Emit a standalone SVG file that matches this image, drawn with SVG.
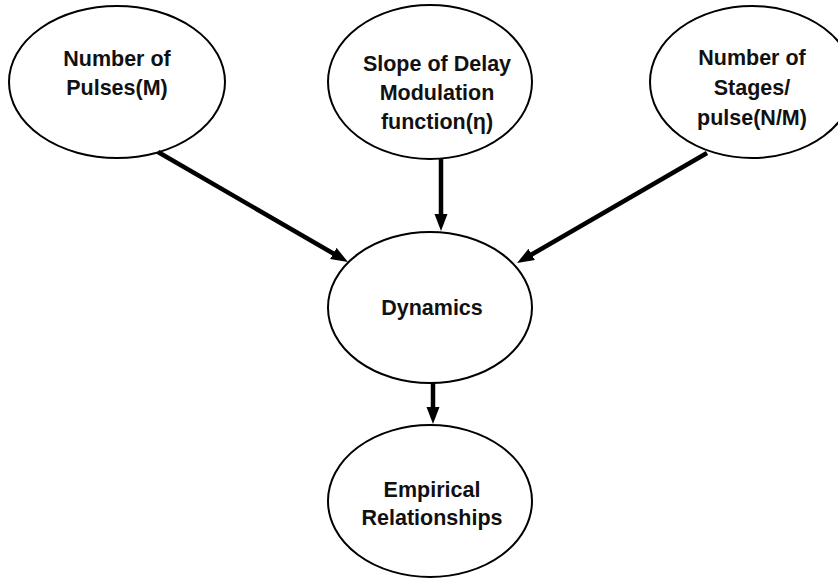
<svg xmlns="http://www.w3.org/2000/svg" width="838" height="579" viewBox="0 0 838 579">
<style>
.node ellipse { fill: #ffffff; stroke: #000000; stroke-width: 2; }
.node text { font-family: "Liberation Sans", Arial, sans-serif; font-weight: bold; font-size: 21.5px; fill: #111111; text-anchor: middle; }
.conn line { stroke: #000000; stroke-width: 4.5; fill: none; marker-end: url(#arrow); }
</style>
<defs>
<marker id="arrow" markerUnits="userSpaceOnUse" markerWidth="18" markerHeight="14" refX="5" refY="6.5" orient="auto">
<path d="M0,0 L17,6.5 L0,13 z" fill="#000000"/>
</marker>
</defs>
<rect width="838" height="579" fill="#ffffff"/>
<g id="n-pulses" class="node">
<ellipse cx="117" cy="82" rx="108" ry="76"/>
<text x="117" y="66">Number of</text>
<text x="117" y="95">Pulses(M)</text>
</g>
<g id="n-slope" class="node">
<ellipse cx="430" cy="82" rx="102" ry="77"/>
<text x="437" y="71">Slope of Delay</text>
<text x="437" y="100">Modulation</text>
<text x="437" y="129">function(η)</text>
</g>
<g id="n-stages" class="node">
<ellipse cx="752" cy="82" rx="102" ry="76"/>
<text x="752" y="65">Number of</text>
<text x="752" y="95">Stages/</text>
<text x="752" y="125">pulse(N/M)</text>
</g>
<g id="n-dynamics" class="node">
<ellipse cx="430" cy="307.5" rx="102" ry="75.5"/>
<text x="432" y="315">Dynamics</text>
</g>
<g id="n-empirical" class="node">
<ellipse cx="430" cy="501" rx="102" ry="76"/>
<text x="432" y="497">Empirical</text>
<text x="432" y="525">Relationships</text>
</g>
<g id="connectors" class="conn">
<line x1="158" y1="152" x2="337.6" y2="256"/>
<line x1="441" y1="158" x2="441" y2="219"/>
<line x1="707" y1="153" x2="527.4" y2="257"/>
<line x1="433" y1="383" x2="433" y2="412"/>
</g>
</svg>
